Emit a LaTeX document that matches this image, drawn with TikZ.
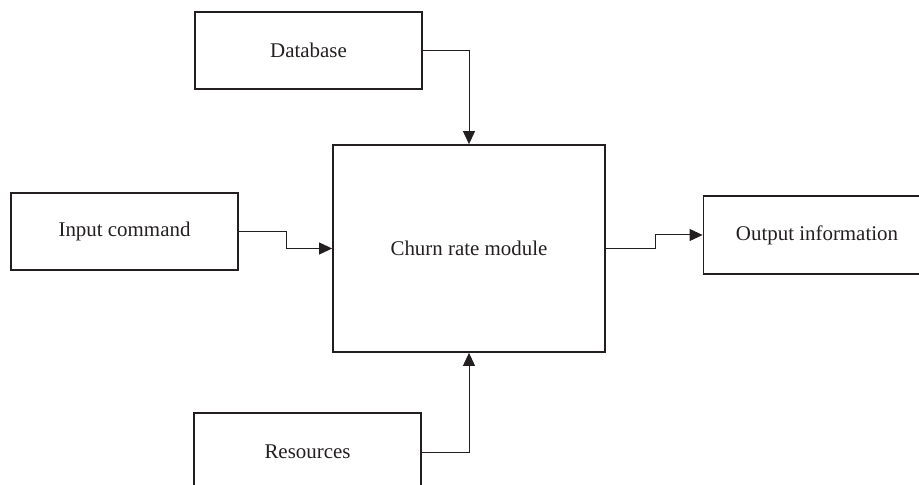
\documentclass[tikz,border=0pt]{standalone}
\usepackage{fontspec}
\setmainfont{Liberation Serif}
\usetikzlibrary{arrows.meta}
\definecolor{ink}{HTML}{231F20}
\begin{document}
\begin{tikzpicture}[x=1bp,y=-1bp,
  box/.style={draw=ink,line width=1.8bp,inner sep=0pt,text=ink,font=\fontsize{21}{25}\selectfont},
  conn/.style={draw=ink,line width=1bp,-{Triangle[length=13bp,width=12bp]}}]
\useasboundingbox (0,0) rectangle (919,485);
\clip (0,0) rectangle (919,485);
\node[box,minimum width=227bp,minimum height=77bp] (db) at (308.5,50.5) {Database};
\node[box,minimum width=227bp,minimum height=77bp] (in) at (124.5,231.5) {Input command};
\node[box,minimum width=272bp,minimum height=207bp] (ch) at (469,248.5) {Churn rate module};
\node[box,minimum width=227bp,minimum height=78bp] (out) at (817,235) {Output information};
\node[box,minimum width=227bp,minimum height=78bp] (res) at (307.5,452) {Resources};
\coordinate (j1) at (286,231.5);
\coordinate (j2) at (286,248.5);
\coordinate (j3) at (655,248.5);
\coordinate (j4) at (655,235);
\draw[conn] (db.east) -| (ch.north);
\draw[conn] (res.east) -| (ch.south);
\draw[conn] (in.east) -- (j1) -- (j2) -- (ch.west);
\draw[conn] (ch.east) -- (j3) -- (j4) -- (out.west);
\end{tikzpicture}
\end{document}
